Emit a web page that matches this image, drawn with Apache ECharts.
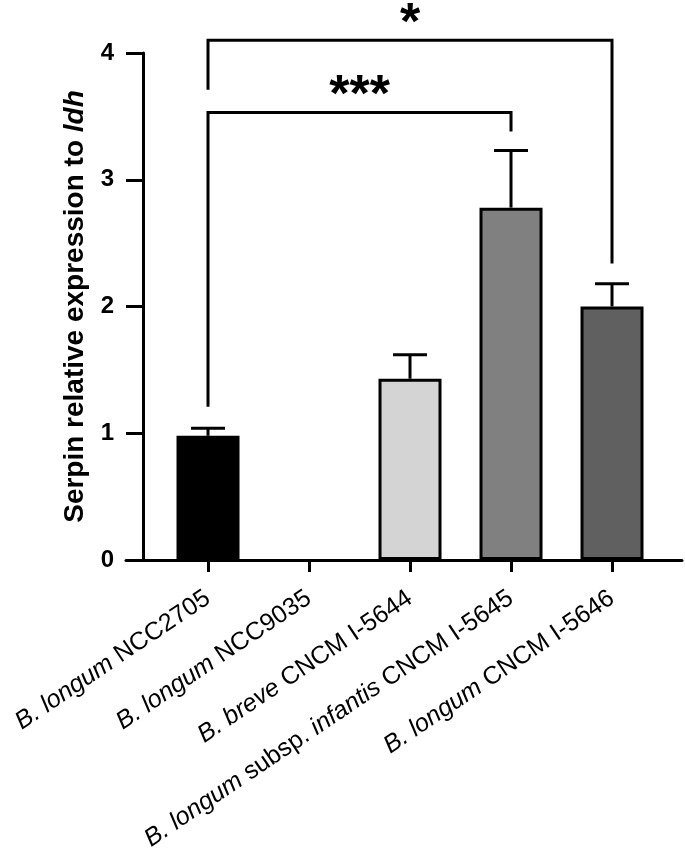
<!DOCTYPE html>
<html>
<head>
<meta charset="utf-8">
<script src="https://cdn.jsdelivr.net/npm/echarts@6/dist/echarts.min.js"></script>
<style>
  html, body { margin: 0; padding: 0; background: #fff; }
  #chart { width: 685px; height: 866px; }
</style>
</head>
<body>
<div id="chart"></div>
<script>
// strains (x axis), italic parts marked with {i|...}
const categories = [
  '{i|B. longum} NCC2705',
  '{i|B. longum} NCC9035',
  '{i|B. breve} CNCM I-5644',
  '{i|B. longum} subsp. {i|infantis} CNCM I-5645',
  '{i|B. longum} CNCM I-5646',
]
const means = [0.98, null, 1.43, 2.78, 2.0]
const sem = [0.06, null, 0.19, 0.45, 0.18]
const yTicks = [0, 1, 2, 3, 4]

// significance brackets
const sigPairs = [[0, 3], [0, 4]]
const sigTop = [3.53, 4.1]
const sigLegEnds = [[1.21, 3.38], [3.71, 2.34]]
const sigLabels = ['***', '*']

const barColors = ['#000000', '#ffffff', '#d4d4d4', '#808080', '#606060']
const FONT = 'Liberation Sans, Arial, sans-serif'

const chart = echarts.init(document.getElementById('chart'))

const idx = categories.map((_, i) => i)

const option = {
  animation: false,
  grid: { left: 126, right: 3, top: 53, bottom: 306, outerBoundsMode: 'none' },
  xAxis: {
    type: 'value',
    min: -0.812,
    max: 4.693,
    splitLine: { show: false },
    axisLine: { show: true, onZero: false, lineStyle: { color: '#000', width: 3 } },
    axisTick: { show: true, customValues: idx, length: 12, lineStyle: { color: '#000', width: 3 } },
    axisLabel: {
      customValues: idx,
      rotate: 34,
      margin: 36,
      fontSize: 25,
      fontFamily: FONT,
      color: '#000',
      formatter: v => categories[Math.round(v)],
      rich: { i: { fontStyle: 'italic', fontSize: 25, fontFamily: FONT, color: '#000' } },
    },
  },
  yAxis: {
    type: 'value',
    min: 0,
    max: 4,
    interval: 1,
    offset: -17,
    splitLine: { show: false },
    axisLine: { show: true, onZero: false, lineStyle: { color: '#000', width: 3 } },
    axisTick: { show: true, length: 17, lineStyle: { color: '#000', width: 3 } },
    axisLabel: {
      margin: 29,
      fontSize: 24,
      fontWeight: 'bold',
      fontFamily: FONT,
      color: '#000',
    },
    name: 'Serpin relative expression to {i|ldh}',
    nameLocation: 'middle',
    nameRotate: 90,
    nameGap: 54,
    nameTextStyle: {
      fontSize: 28,
      fontWeight: 'bold',
      fontFamily: FONT,
      color: '#000',
      rich: { i: { fontStyle: 'italic', fontWeight: 'bold', fontSize: 28, fontFamily: FONT, color: '#000' } },
    },
  },
  series: [
    {
      type: 'bar',
      barWidth: 63,
      z: 2,
      data: means.map((m, i) => ({
        value: [i, m],
        itemStyle: { color: barColors[i], borderColor: '#000', borderWidth: 3 },
      })).filter(d => d.value[1] != null),
    },
    {
      // error bars (mean + SEM)
      type: 'custom',
      z: 3,
      data: means.map((m, i) => [i, m, m == null ? null : m + sem[i]]).filter(d => d[1] != null),
      renderItem: (params, api) => {
        const base = api.coord([api.value(0), api.value(1)])
        const top = api.coord([api.value(0), api.value(2)])
        const half = 17
        return {
          type: 'group',
          children: [
            { type: 'line', shape: { x1: base[0], y1: base[1], x2: top[0], y2: top[1] }, style: { stroke: '#000', lineWidth: 3 } },
            { type: 'line', shape: { x1: top[0] - half, y1: top[1], x2: top[0] + half, y2: top[1] }, style: { stroke: '#000', lineWidth: 3 } },
          ],
        }
      },
    },
    {
      // significance brackets
      type: 'custom',
      z: 4,
      clip: false,
      data: sigPairs.map((p, i) => [p[0], p[1], sigTop[i], sigLegEnds[i][0], sigLegEnds[i][1]]),
      renderItem: (params, api) => {
        const a = api.coord([api.value(0), api.value(3)])
        const aTop = api.coord([api.value(0), api.value(2)])
        const bTop = api.coord([api.value(1), api.value(2)])
        const b = api.coord([api.value(1), api.value(4)])
        return {
          type: 'group',
          children: [
            {
              type: 'polyline',
              shape: { points: [a, aTop, bTop, b] },
              style: { stroke: '#000', lineWidth: 3, fill: null, lineJoin: 'miter' },
            },
            {
              type: 'text',
              x: (aTop[0] + bTop[0]) / 2,
              y: aTop[1] - 16,
              style: {
                text: sigLabels[params.dataIndex],
                fontSize: 52,
                fontWeight: 'bold',
                fontFamily: FONT,
                fill: '#000',
                align: 'center',
                verticalAlign: 'middle',
              },
            },
          ],
        }
      },
    },
  ],
}

chart.setOption(option)
</script>
</body>
</html>
